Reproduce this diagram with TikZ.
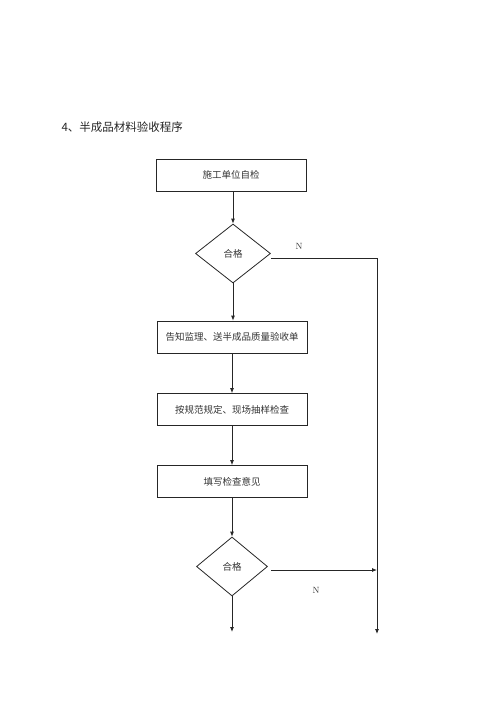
\documentclass[tikz,border=0pt]{standalone}
\usepackage{fontspec}
\newfontfamily\cjk{Noto Sans CJK SC}
\usetikzlibrary{arrows.meta,shapes.geometric}
\begin{document}
\begin{tikzpicture}[x=1pt,y=-1pt,
  box/.style={draw=black!85,line width=0.8pt,minimum width=150pt,minimum height=32pt,inner sep=0pt,font=\cjk\fontsize{9.5}{11}\selectfont,text=black!80},
  dia/.style={draw=black!85,line width=0.8pt,diamond,inner sep=0pt,minimum width=75pt,minimum height=59pt,font=\cjk\fontsize{9.5}{11}\selectfont,text=black!80},
  conn/.style={draw=black!85,line width=0.8pt,-{Latex[length=5pt,width=4pt]}},
  plain/.style={draw=black!85,line width=0.8pt},
  lbl/.style={font=\fontsize{9}{10}\selectfont,text=black!80}]
\useasboundingbox (0,0) rectangle (500,707);
\node[anchor=west,font=\cjk\fontsize{11.5}{13}\selectfont,text=black!85] (title) at (58,127) {4、半成品材料验收程序};
\node[box] (b1) at (231,175) {施工单位自检};
\node[dia,minimum width=75pt] (d1) at (233,253.5) {合格};
\node[box] (b2) at (232,337) {告知监理、送半成品质量验收单};
\node[box] (b3) at (232,409.5) {按规范规定、现场抽样检查};
\node[box] (b4) at (232,481.5) {填写检查意见};
\node[dia,minimum width=71pt] (d2) at (232,566.5) {合格};
\node[lbl] (n1) at (299,246) {N};
\node[lbl] (n2) at (316,590) {N};
\coordinate (r1) at (377,258);
\coordinate (rend) at (377,634);
\coordinate (d1r) at (271,258);
\coordinate (d2r) at (271,570);
\coordinate (r2) at (377,570);
\coordinate (bend) at (232,632);
\draw[conn] (b1.south -| d1.north) -- (d1.north);
\draw[conn] (d1.south) -- (d1.south |- b2.north);
\draw[conn] (b2.south) -- (b3.north);
\draw[conn] (b3.south) -- (b4.north);
\draw[conn] (b4.south) -- (d2.north);
\draw[conn] (d2.south) -- (bend);
\draw[plain] (d1r) -- (r1);
\draw[conn] (r1) -- (rend);
\draw[conn] (d2r) -- (r2);
\end{tikzpicture}
\end{document}
